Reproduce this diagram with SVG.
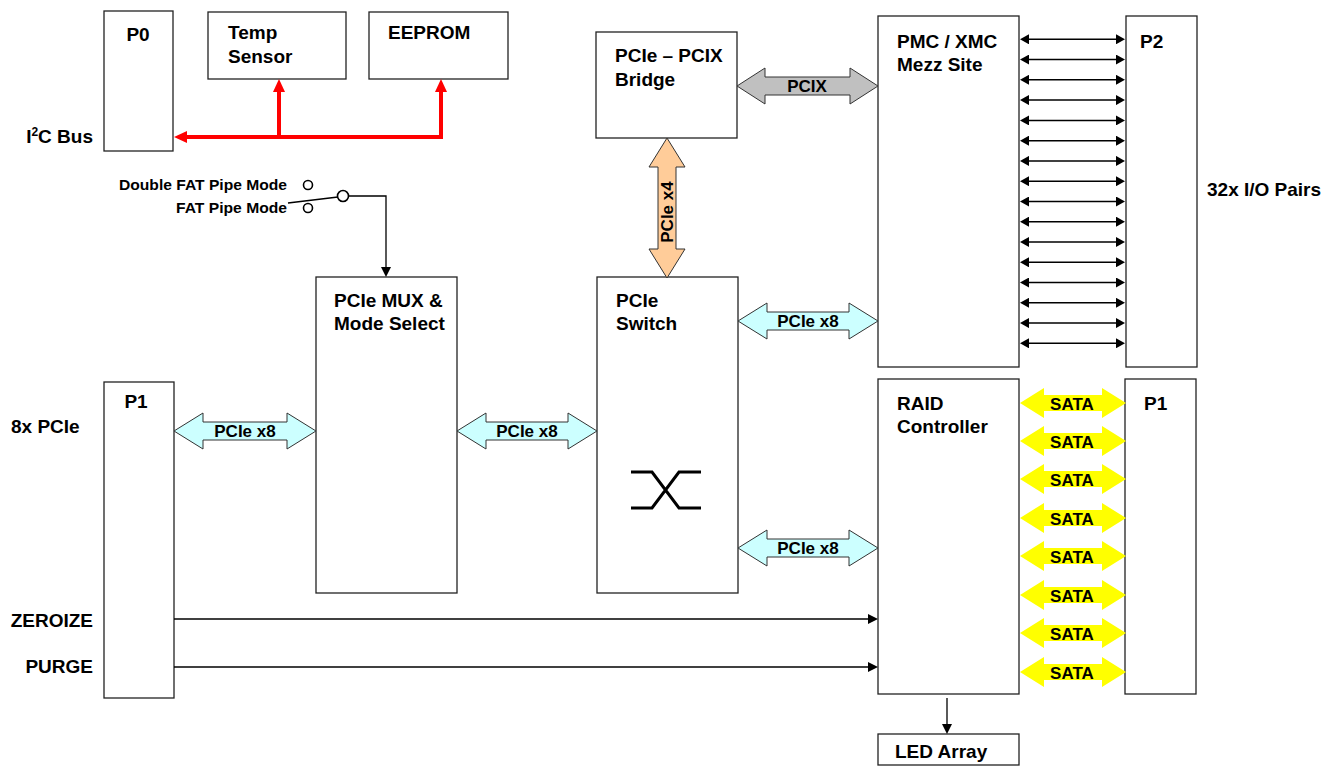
<svg xmlns="http://www.w3.org/2000/svg" width="1337" height="766" viewBox="0 0 1337 766">
<style>
text{font-family:"Liberation Sans",Arial,sans-serif;font-weight:bold;fill:#000}
.t{font-size:19px}
.s{font-size:17px}
.m{font-size:15px}
.box{fill:#fff;stroke:#222;stroke-width:1.3}
.pcie{fill:#CCFFFF;stroke:#333;stroke-width:1}
.pcix{fill:#C0C0C0;stroke:#333;stroke-width:1}
.x4{fill:#FFCC99;stroke:#333;stroke-width:1}
.sata{fill:#FFFF00}
.red{fill:none;stroke:#FF0000;stroke-width:4}
.blk{fill:none;stroke:#000;stroke-width:1.3}
.io{fill:none;stroke:#000;stroke-width:1.5}
.sw{fill:none;stroke:#000;stroke-width:3}
.c{fill:#fff;stroke:#000;stroke-width:1.6}
</style>
<defs>
<marker id="ra" viewBox="0 0 13 12" refX="0" refY="6" markerUnits="userSpaceOnUse" markerWidth="13" markerHeight="12" orient="auto-start-reverse"><path d="M0,0 L13,6 L0,12 z" fill="#FF0000"/></marker>
<marker id="ba" viewBox="0 0 10 10" refX="0" refY="5" markerUnits="userSpaceOnUse" markerWidth="10" markerHeight="10" orient="auto-start-reverse"><path d="M0,0 L10,5 L0,10 z" fill="#000"/></marker>
<marker id="ia" viewBox="0 0 9 10" refX="0" refY="5" markerUnits="userSpaceOnUse" markerWidth="9" markerHeight="10" orient="auto-start-reverse"><path d="M0,0 L9,5 L0,10 z" fill="#000"/></marker>
</defs>

<g id="p0"><rect class="box" x="104" y="11" width="69" height="140"/><text class="t" x="138" y="41" text-anchor="middle">P0</text></g>
<g id="temp"><rect class="box" x="208" y="12" width="138" height="67"/><text class="t" x="228" y="39">Temp</text><text class="t" x="228" y="63">Sensor</text></g>
<g id="eeprom"><rect class="box" x="369" y="12" width="139" height="67"/><text class="t" x="388" y="39">EEPROM</text></g>
<g id="bridge"><rect class="box" x="596" y="32" width="141" height="106"/><text class="t" x="615" y="62">PCIe – PCIX</text><text class="t" x="615" y="86">Bridge</text></g>
<g id="pmc"><rect class="box" x="878" y="16" width="141" height="351"/><text class="t" x="897" y="48">PMC / XMC</text><text class="t" x="897" y="71">Mezz Site</text></g>
<g id="p2"><rect class="box" x="1126" y="16" width="71" height="351"/><text class="t" x="1140" y="48">P2</text></g>
<g id="mux"><rect class="box" x="316" y="277" width="141" height="316"/><text class="t" x="334" y="307">PCIe MUX &amp;</text><text class="t" x="334" y="330">Mode Select</text></g>
<g id="switch"><rect class="box" x="597" y="277" width="141" height="316"/><text class="t" x="616" y="307">PCIe</text><text class="t" x="616" y="330">Switch</text>
<path class="sw" d="M631,472 L652,472 L679,508 L701,508 M631,508 L652,508 L679,472 L701,472"/></g>
<g id="p1left"><rect class="box" x="104" y="382" width="70" height="316"/><text class="t" x="136" y="408" text-anchor="middle">P1</text></g>
<g id="raid"><rect class="box" x="878" y="379" width="141" height="315"/><text class="t" x="897" y="410">RAID</text><text class="t" x="897" y="433">Controller</text></g>
<g id="p1right"><rect class="box" x="1125" y="379" width="71" height="315"/><text class="t" x="1144" y="410">P1</text></g>
<g id="led"><rect class="box" x="878" y="734" width="141" height="31"/><text class="t" x="895" y="758">LED Array</text></g>

<g id="labels">
<text class="t" x="93" y="143" text-anchor="end">I<tspan font-size="12" dy="-7">2</tspan><tspan dy="7">C Bus</tspan></text>
<text class="t" x="11" y="433">8x PCIe</text>
<text class="t" x="93" y="627" text-anchor="end">ZEROIZE</text>
<text class="t" x="93" y="673" text-anchor="end">PURGE</text>
<text class="t" x="1207" y="196">32x I/O Pairs</text>
<text class="m" x="119" y="190" textLength="168" lengthAdjust="spacingAndGlyphs">Double FAT Pipe Mode</text>
<text class="m" x="176" y="213" textLength="111" lengthAdjust="spacingAndGlyphs">FAT Pipe Mode</text>
</g>

<g id="connectors">
<path class="red" d="M187,137 L441,137 L441,92" marker-start="url(#ra)" marker-end="url(#ra)"/>
<path class="red" d="M279,137 L279,92" marker-end="url(#ra)"/>

<circle class="c" cx="308" cy="185" r="4.5"/>
<circle class="c" cx="308" cy="208" r="4.5"/>
<line x1="288" y1="203" x2="338" y2="197" stroke="#000" stroke-width="1.6"/>
<circle class="c" cx="343" cy="196" r="5.5"/>
<path class="blk" d="M348.5,196 L386,196 L386,267" marker-end="url(#ba)"/>

<path class="blk" d="M174,619 L868,619" marker-end="url(#ba)"/>
<path class="blk" d="M174,667 L868,667" marker-end="url(#ba)"/>
<path class="blk" d="M947,698 L947,724" marker-end="url(#ba)"/>

<path class="pcix" d="M737,86 L765,68 L765,77 L850,77 L850,68 L878,86 L850,104 L850,95 L765,95 L765,104 Z"/>
<text class="s" x="807" y="92" text-anchor="middle">PCIX</text>
<path class="x4" d="M667,138 L685,167 L676,167 L676,249 L685,249 L667,278 L649,249 L658,249 L658,167 L649,167 Z"/>
<text class="s" transform="translate(673,212) rotate(-90)" text-anchor="middle">PCIe x4</text>

<path class="pcie" d="M174,431 L203,413 L203,422 L287,422 L287,413 L316,431 L287,449 L287,440 L203,440 L203,449 Z"/>
<text class="s" x="245" y="437" text-anchor="middle">PCIe x8</text>
<path class="pcie" d="M457,431 L486,413 L486,422 L568,422 L568,413 L597,431 L568,449 L568,440 L486,440 L486,449 Z"/>
<text class="s" x="527" y="437" text-anchor="middle">PCIe x8</text>
<path class="pcie" d="M738,321 L767,303 L767,312 L849,312 L849,303 L878,321 L849,339 L849,330 L767,330 L767,339 Z"/>
<text class="s" x="808" y="327" text-anchor="middle">PCIe x8</text>
<path class="pcie" d="M738,548 L767,530 L767,539 L849,539 L849,530 L878,548 L849,566 L849,557 L767,557 L767,566 Z"/>
<text class="s" x="808" y="554" text-anchor="middle">PCIe x8</text>

<g id="io">
<path class="io" d="M1029,39.3 L1116,39.3" marker-start="url(#ia)" marker-end="url(#ia)"/>
<path class="io" d="M1029,59.6 L1116,59.6" marker-start="url(#ia)" marker-end="url(#ia)"/>
<path class="io" d="M1029,79.8 L1116,79.8" marker-start="url(#ia)" marker-end="url(#ia)"/>
<path class="io" d="M1029,100.1 L1116,100.1" marker-start="url(#ia)" marker-end="url(#ia)"/>
<path class="io" d="M1029,120.4 L1116,120.4" marker-start="url(#ia)" marker-end="url(#ia)"/>
<path class="io" d="M1029,140.7 L1116,140.7" marker-start="url(#ia)" marker-end="url(#ia)"/>
<path class="io" d="M1029,160.9 L1116,160.9" marker-start="url(#ia)" marker-end="url(#ia)"/>
<path class="io" d="M1029,181.2 L1116,181.2" marker-start="url(#ia)" marker-end="url(#ia)"/>
<path class="io" d="M1029,201.5 L1116,201.5" marker-start="url(#ia)" marker-end="url(#ia)"/>
<path class="io" d="M1029,221.7 L1116,221.7" marker-start="url(#ia)" marker-end="url(#ia)"/>
<path class="io" d="M1029,242.0 L1116,242.0" marker-start="url(#ia)" marker-end="url(#ia)"/>
<path class="io" d="M1029,262.3 L1116,262.3" marker-start="url(#ia)" marker-end="url(#ia)"/>
<path class="io" d="M1029,282.5 L1116,282.5" marker-start="url(#ia)" marker-end="url(#ia)"/>
<path class="io" d="M1029,302.8 L1116,302.8" marker-start="url(#ia)" marker-end="url(#ia)"/>
<path class="io" d="M1029,323.1 L1116,323.1" marker-start="url(#ia)" marker-end="url(#ia)"/>
<path class="io" d="M1029,343.3 L1116,343.3" marker-start="url(#ia)" marker-end="url(#ia)"/>
</g>

<g id="sata">
<path class="sata" d="M1020,403 L1044,388 L1044,395 L1102,395 L1102,388 L1126,403 L1102,418 L1102,411 L1044,411 L1044,418 Z"/>
<text class="s" x="1072" y="410" text-anchor="middle">SATA</text>
<path class="sata" d="M1020,441 L1044,426 L1044,433 L1102,433 L1102,426 L1126,441 L1102,456 L1102,449 L1044,449 L1044,456 Z"/>
<text class="s" x="1072" y="448" text-anchor="middle">SATA</text>
<path class="sata" d="M1020,479 L1044,464 L1044,471 L1102,471 L1102,464 L1126,479 L1102,494 L1102,487 L1044,487 L1044,494 Z"/>
<text class="s" x="1072" y="486" text-anchor="middle">SATA</text>
<path class="sata" d="M1020,518 L1044,503 L1044,510 L1102,510 L1102,503 L1126,518 L1102,533 L1102,526 L1044,526 L1044,533 Z"/>
<text class="s" x="1072" y="525" text-anchor="middle">SATA</text>
<path class="sata" d="M1020,556 L1044,541 L1044,548 L1102,548 L1102,541 L1126,556 L1102,571 L1102,564 L1044,564 L1044,571 Z"/>
<text class="s" x="1072" y="563" text-anchor="middle">SATA</text>
<path class="sata" d="M1020,595 L1044,580 L1044,587 L1102,587 L1102,580 L1126,595 L1102,610 L1102,603 L1044,603 L1044,610 Z"/>
<text class="s" x="1072" y="602" text-anchor="middle">SATA</text>
<path class="sata" d="M1020,633 L1044,618 L1044,625 L1102,625 L1102,618 L1126,633 L1102,648 L1102,641 L1044,641 L1044,648 Z"/>
<text class="s" x="1072" y="640" text-anchor="middle">SATA</text>
<path class="sata" d="M1020,672 L1044,657 L1044,664 L1102,664 L1102,657 L1126,672 L1102,687 L1102,680 L1044,680 L1044,687 Z"/>
<text class="s" x="1072" y="679" text-anchor="middle">SATA</text>
</g>
</g>
</svg>
